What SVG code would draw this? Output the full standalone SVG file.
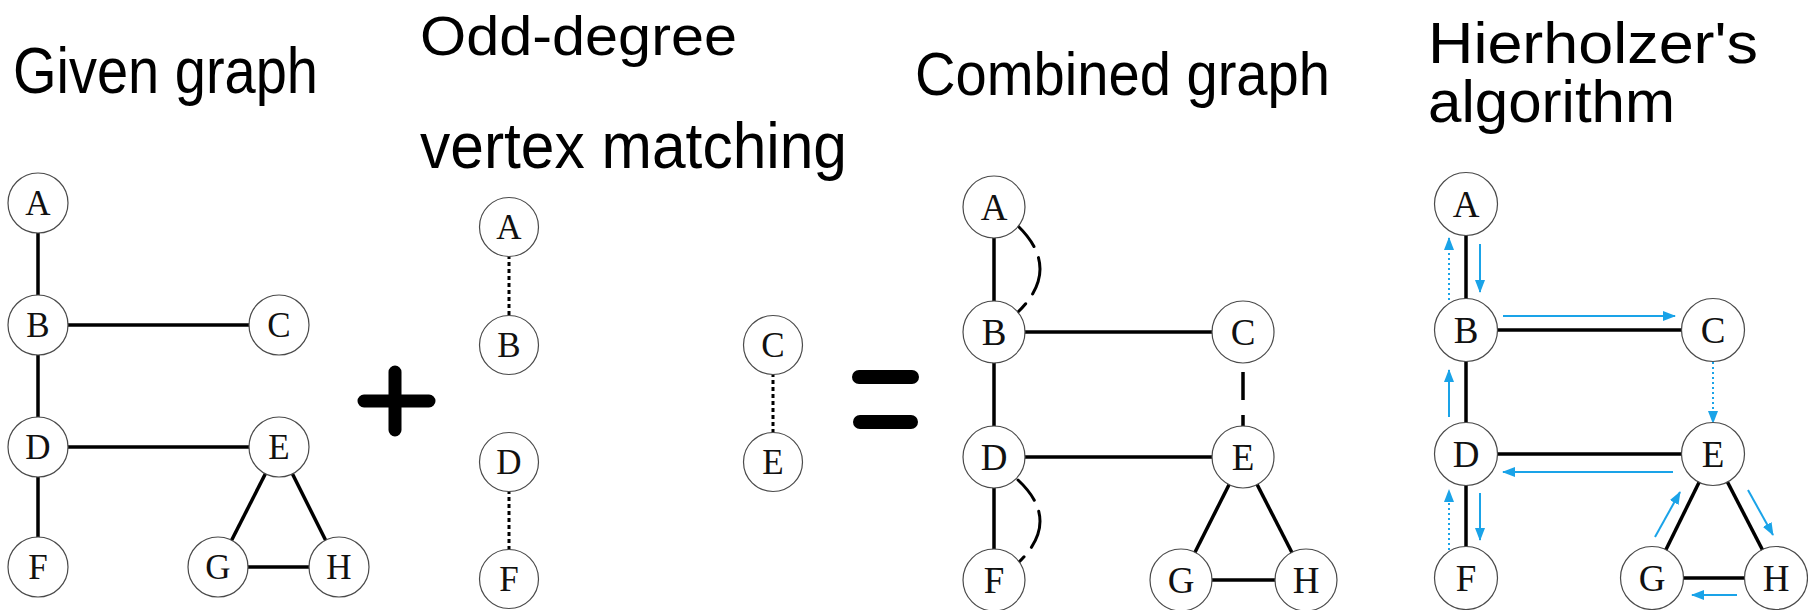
<svg xmlns="http://www.w3.org/2000/svg" width="1808" height="610" viewBox="0 0 1808 610">
<defs>
<style>
.node circle{fill:#fff;stroke:#4a4a4a;stroke-width:1.2}
.node text{font-family:"Liberation Serif","Times New Roman",serif;text-anchor:middle;fill:#111}
.s1 text{font-size:35px}
.s2 text{font-size:37px}
.edge{stroke:#000;stroke-width:3.5;fill:none}
.dot{stroke:#000;stroke-width:3;stroke-dasharray:4 3;fill:none}
.arc{stroke:#000;stroke-width:3;fill:none;stroke-linecap:round}
.blue{stroke:#1aa3e8;stroke-width:2;fill:none;marker-end:url(#ah)}
.bdot{stroke-dasharray:2 3}
.title{font-family:"Liberation Sans",Arial,sans-serif;fill:#000}
.sym{stroke:#000;stroke-linecap:round;fill:none}
</style>
<marker id="ah" markerWidth="13" markerHeight="10" refX="12" refY="5" orient="auto" markerUnits="userSpaceOnUse">
<path d="M0,0 L13,5 L0,10 Z" fill="#1aa3e8"/>
</marker>
</defs>
<rect width="1808" height="610" fill="#fff"/>

<g id="titles">
<text class="title" x="13" y="93" font-size="64" textLength="305" lengthAdjust="spacingAndGlyphs">Given graph</text>
<text class="title" x="420" y="55" font-size="56" textLength="317" lengthAdjust="spacingAndGlyphs">Odd-degree</text>
<text class="title" x="420" y="168" font-size="64" textLength="427" lengthAdjust="spacingAndGlyphs">vertex matching</text>
<text class="title" x="915" y="95" font-size="62" textLength="415" lengthAdjust="spacingAndGlyphs">Combined graph</text>
<text class="title" x="1428" y="63" font-size="58" textLength="330" lengthAdjust="spacingAndGlyphs">Hierholzer's</text>
<text class="title" x="1428" y="122" font-size="60" textLength="247" lengthAdjust="spacingAndGlyphs">algorithm</text>
</g>

<g id="operators">
<path class="sym" stroke-width="13" d="M395,372 L395,430 M364,401 L429,401"/>
<path class="sym" stroke-width="14" d="M859,377 L912,377 M860,422 L911,422"/>
</g>

<g id="connectors">
<!-- panel 1 -->
<line class="edge" x1="38" y1="203" x2="38" y2="567"/>
<line class="edge" x1="38" y1="325" x2="279" y2="325"/>
<line class="edge" x1="38" y1="447" x2="279" y2="447"/>
<line class="edge" x1="279" y1="447" x2="218" y2="567"/>
<line class="edge" x1="279" y1="447" x2="339" y2="567"/>
<line class="edge" x1="218" y1="567" x2="339" y2="567"/>
<!-- panel 2 -->
<line class="dot" x1="509" y1="227" x2="509" y2="345"/>
<line class="dot" x1="509" y1="462" x2="509" y2="579"/>
<line class="dot" x1="773" y1="345" x2="773" y2="462"/>
<!-- panel 3 -->
<line class="edge" x1="994" y1="207" x2="994" y2="580"/>
<line class="edge" x1="994" y1="332" x2="1243" y2="332"/>
<line class="edge" x1="994" y1="457" x2="1243" y2="457"/>
<line class="edge" x1="1243" y1="457" x2="1181" y2="580"/>
<line class="edge" x1="1243" y1="457" x2="1306" y2="580"/>
<line class="edge" x1="1181" y1="580" x2="1306" y2="580"/>
<line x1="1243" y1="372" x2="1243" y2="428" stroke="#000" stroke-width="3.5" stroke-dasharray="28 15"/>
<path class="arc" d="M1018,226 Q1062,269 1018,312" stroke-dasharray="26 12 38 12 20"/>
<path class="arc" d="M1018,480 Q1062,521 1018,563" stroke-dasharray="26 12 38 12 20"/>
<!-- panel 4 -->
<line class="edge" x1="1466" y1="204" x2="1466" y2="578"/>
<line class="edge" x1="1466" y1="330" x2="1713" y2="330"/>
<line class="edge" x1="1466" y1="454" x2="1713" y2="454"/>
<line class="edge" x1="1713" y1="454" x2="1652" y2="578"/>
<line class="edge" x1="1713" y1="454" x2="1777" y2="578"/>
<line class="edge" x1="1652" y1="578" x2="1777" y2="578"/>
<line class="blue bdot" x1="1449" y1="300" x2="1449" y2="238"/>
<line class="blue" x1="1480" y1="244" x2="1480" y2="292"/>
<line class="blue" x1="1503" y1="316" x2="1675" y2="316"/>
<line class="blue bdot" x1="1713" y1="362" x2="1713" y2="423"/>
<line class="blue" x1="1449" y1="417" x2="1449" y2="370"/>
<line class="blue" x1="1673" y1="472" x2="1503" y2="472"/>
<line class="blue" x1="1480" y1="493" x2="1480" y2="540"/>
<line class="blue bdot" x1="1449" y1="550" x2="1449" y2="490"/>
<line class="blue" x1="1748" y1="490" x2="1773" y2="535"/>
<line class="blue" x1="1655" y1="537" x2="1680" y2="492"/>
<line class="blue" x1="1737" y1="595" x2="1692" y2="595"/>
</g>

<!-- panel 1 nodes -->
<g id="p1-A" class="node s1"><circle cx="38" cy="203" r="30"/><text x="38" y="215">A</text></g>
<g id="p1-B" class="node s1"><circle cx="38" cy="325" r="30"/><text x="38" y="337">B</text></g>
<g id="p1-C" class="node s1"><circle cx="279" cy="325" r="30"/><text x="279" y="337">C</text></g>
<g id="p1-D" class="node s1"><circle cx="38" cy="447" r="30"/><text x="38" y="459">D</text></g>
<g id="p1-E" class="node s1"><circle cx="279" cy="447" r="30"/><text x="279" y="459">E</text></g>
<g id="p1-F" class="node s1"><circle cx="38" cy="567" r="30"/><text x="38" y="579">F</text></g>
<g id="p1-G" class="node s1"><circle cx="218" cy="567" r="30"/><text x="218" y="579">G</text></g>
<g id="p1-H" class="node s1"><circle cx="339" cy="567" r="30"/><text x="339" y="579">H</text></g>

<!-- panel 2 nodes -->
<g id="p2-A" class="node s1"><circle cx="509" cy="227" r="29.5"/><text x="509" y="239">A</text></g>
<g id="p2-B" class="node s1"><circle cx="509" cy="345" r="29.5"/><text x="509" y="357">B</text></g>
<g id="p2-D" class="node s1"><circle cx="509" cy="462" r="29.5"/><text x="509" y="474">D</text></g>
<g id="p2-F" class="node s1"><circle cx="509" cy="579" r="29.5"/><text x="509" y="591">F</text></g>
<g id="p2-C" class="node s1"><circle cx="773" cy="345" r="29.5"/><text x="773" y="357">C</text></g>
<g id="p2-E" class="node s1"><circle cx="773" cy="462" r="29.5"/><text x="773" y="474">E</text></g>

<!-- panel 3 nodes -->
<g id="p3-A" class="node s2"><circle cx="994" cy="207" r="31"/><text x="994" y="220">A</text></g>
<g id="p3-B" class="node s2"><circle cx="994" cy="332" r="31"/><text x="994" y="345">B</text></g>
<g id="p3-C" class="node s2"><circle cx="1243" cy="332" r="31"/><text x="1243" y="345">C</text></g>
<g id="p3-D" class="node s2"><circle cx="994" cy="457" r="31"/><text x="994" y="470">D</text></g>
<g id="p3-E" class="node s2"><circle cx="1243" cy="457" r="31"/><text x="1243" y="470">E</text></g>
<g id="p3-F" class="node s2"><circle cx="994" cy="580" r="31"/><text x="994" y="593">F</text></g>
<g id="p3-G" class="node s2"><circle cx="1181" cy="580" r="31"/><text x="1181" y="593">G</text></g>
<g id="p3-H" class="node s2"><circle cx="1306" cy="580" r="31"/><text x="1306" y="593">H</text></g>

<!-- panel 4 nodes -->
<g id="p4-A" class="node s2"><circle cx="1466" cy="204" r="31.5"/><text x="1466" y="217">A</text></g>
<g id="p4-B" class="node s2"><circle cx="1466" cy="330" r="31.5"/><text x="1466" y="343">B</text></g>
<g id="p4-C" class="node s2"><circle cx="1713" cy="330" r="31.5"/><text x="1713" y="343">C</text></g>
<g id="p4-D" class="node s2"><circle cx="1466" cy="454" r="31.5"/><text x="1466" y="467">D</text></g>
<g id="p4-E" class="node s2"><circle cx="1713" cy="454" r="31.5"/><text x="1713" y="467">E</text></g>
<g id="p4-F" class="node s2"><circle cx="1466" cy="578" r="31.5"/><text x="1466" y="591">F</text></g>
<g id="p4-G" class="node s2"><circle cx="1652" cy="578" r="31.5"/><text x="1652" y="591">G</text></g>
<g id="p4-H" class="node s2"><circle cx="1776" cy="578" r="31.5"/><text x="1776" y="591">H</text></g>
</svg>
